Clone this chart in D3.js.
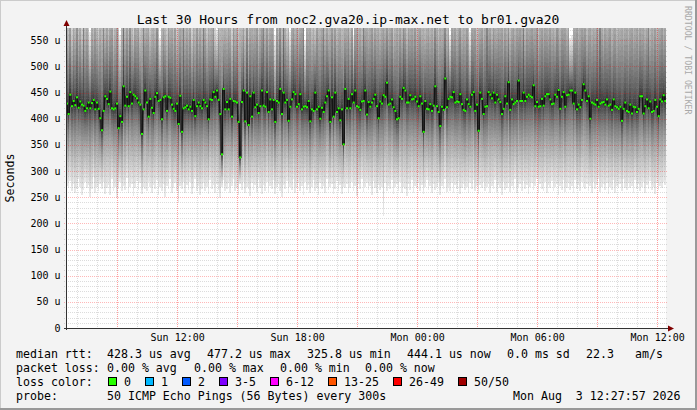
<!DOCTYPE html>
<html>
<head>
<meta charset="utf-8">
<script src="https://cdn.jsdelivr.net/npm/d3@7"></script>
<style>
  body { margin: 0; background: #f3f3f3; }
  text { font-family: "DejaVu Sans Mono", monospace; white-space: pre; }
</style>
</head>
<body>
<div id="chart"></div>
<script>
// median rtt per 300s step, in microseconds (361 steps = 30 hours)
var medianRtt = [
  429,409,446,424,434,426,441,421,433,427,425,415,420,431,420,430,436,418,431,419,401,378,415,443,
  438,428,452,420,418,420,429,382,405,394,462,425,442,424,451,429,446,443,439,431,427,371,418,454,
  431,404,438,421,411,442,449,434,436,399,441,443,415,442,440,427,419,415,429,390,444,375,420,422,
  425,418,423,415,436,405,424,431,424,420,436,431,424,399,437,436,451,442,454,436,409,332,457,418,
  432,418,438,404,434,433,431,394,326,432,454,395,450,388,443,404,450,422,427,411,424,454,425,423,
  451,413,437,418,436,394,434,431,457,409,450,431,436,396,423,437,451,447,423,428,447,418,423,424,
  422,434,395,418,415,450,418,423,400,421,413,431,443,454,394,441,404,450,413,420,397,418,351,457,
  420,438,420,447,431,454,424,422,417,433,434,454,408,432,423,431,438,446,424,401,433,429,445,442,
  469,427,429,437,422,415,399,401,442,438,459,454,431,431,445,437,438,442,433,424,443,429,375,434,
  419,418,428,415,425,462,424,413,386,423,417,477,422,438,442,441,451,431,433,432,447,428,417,415,
  437,428,423,446,451,415,427,377,450,438,409,423,424,451,446,439,450,431,446,437,432,409,419,443,
  429,470,417,437,428,431,434,473,434,434,450,434,442,446,443,441,464,424,432,423,424,438,425,443,
  447,447,437,428,429,446,442,455,419,442,451,423,445,446,454,454,429,450,418,427,422,436,466,454,
  434,443,400,431,429,427,436,423,429,431,432,427,437,425,427,417,437,424,422,419,423,396,419,431,
  415,413,427,410,423,422,413,419,443,443,410,424,437,420,433,413,415,436,423,405,437,433,445,434,
  443
];

// lowest ping of the 50 per step, in microseconds
var minRtt = [
  272,268,281,262,275,258,266,284,270,255,263,279,268,274,251,266,288,259,270,262,276,265,280,257,
  268,273,255,284,262,270,248,266,279,261,272,264,286,258,269,275,253,267,281,263,277,256,270,265,
  262,280,270,258,274,266,283,254,269,261,276,250,272,265,284,259,268,277,262,240,271,266,280,258,
  274,263,279,256,268,285,261,272,254,266,278,262,270,257,283,266,273,259,276,264,249,270,282,261,
  266,277,259,271,284,262,268,255,275,263,280,258,270,266,252,278,264,273,260,282,267,256,274,262,
  279,260,271,265,283,257,269,276,262,250,274,266,281,259,270,263,285,258,268,277,261,272,255,280,
  263,274,258,270,282,261,267,254,278,265,272,259,284,263,269,276,257,266,281,262,273,256,270,268,
  276,258,267,280,262,271,253,275,266,284,260,269,277,263,272,255,281,267,259,274,263,270,215,278,
  261,272,266,283,257,269,275,262,280,258,270,266,253,276,264,282,259,271,267,278,262,274,256,269,
  282,264,271,258,276,263,269,280,255,272,266,284,260,270,262,277,258,273,266,281,257,268,275,263,
  270,259,278,265,283,261,272,256,274,267,280,262,269,276,258,271,265,282,260,273,267,254,279,263,
  268,277,260,272,264,285,258,270,276,262,281,266,273,257,269,278,263,271,284,259,275,266,262,280,
  258,273,267,281,262,270,276,255,272,264,283,260,268,277,263,271,258,282,266,274,261,279,269,265,
  276,262,271,258,280,266,273,284,260,269,275,263,278,257,270,264,282,259,272,267,276,261,285,268,
  263,278,268,272,259,283,266,275,262,270,279,258,273,266,281,264,270,256,277,263,272,268,280,274,
  270
];

// highest ping of the 50 per step, in microseconds
var maxRtt = [
  680,640,720,610,700,655,760,630,690,615,920,660,705,625,565,690,640,735,650,610,700,675,880,640,
  700,625,680,740,615,665,720,640,560,690,950,655,710,630,760,645,600,695,670,725,620,680,900,650,
  690,735,615,670,705,640,760,625,555,680,710,650,620,730,665,700,640,745,610,675,690,720,930,660,
  700,645,725,610,680,660,740,630,705,650,905,690,620,715,655,680,740,600,570,695,660,730,640,685,
  650,720,670,610,745,660,690,630,715,655,700,640,760,620,680,705,650,690,735,615,670,700,890,655,
  710,640,685,725,660,560,700,630,745,655,940,680,615,700,565,690,720,650,705,640,675,730,880,550,
  700,660,725,640,690,615,740,655,680,710,910,645,700,625,690,735,660,705,640,680,720,650,700,665,
  690,730,640,705,560,680,720,655,700,640,925,675,715,650,690,740,630,700,665,720,645,690,710,660,
  705,650,690,740,625,680,715,660,700,645,760,690,630,720,670,700,655,735,640,690,710,660,725,645,
  690,720,655,700,640,745,680,630,715,665,700,740,650,690,560,705,660,720,640,690,735,655,700,675,
  720,650,565,700,680,740,630,705,670,715,650,690,880,660,700,640,725,680,655,710,690,740,645,700,
  665,720,640,690,735,660,700,650,725,680,895,640,705,670,690,720,655,700,740,630,690,715,660,700,
  685,650,720,670,700,640,745,680,660,710,690,725,645,700,555,560,700,675,730,650,690,720,660,705,
  640,690,740,660,700,675,720,650,905,690,640,715,670,700,735,655,690,720,645,700,680,730,660,690,
  715,650,700,740,660,690,720,645,700,675,730,660,690,880,640,705,670,720,655,700,690,735,650,700,
  680
];

var titleText = "Last 30 Hours from noc2.gva20.ip-max.net to br01.gva20";
var yTicks = [0, 50, 100, 150, 200, 250, 300, 350, 400, 450, 500, 550];
var rttStats = ["428.3 us avg", "477.2 us max", "325.8 us min", "444.1 us now", "0.0 ms sd", "22.3", "am/s"];
var lossStats = ["0.00 % avg", "0.00 % max", "0.00 % min", "0.00 % now"];
var lossLabels = ["0", "1", "2", "3-5", "6-12", "13-25", "26-49", "50/50"];
var lossColors = ["#26ff00", "#00b8ff", "#0059ff", "#7e00ff", "#ff00ff", "#ff5500", "#ff0000", "#a10000"];
var probeText = "50 ICMP Echo Pings (56 Bytes) every 300s";
var pings = 50, stepSec = 300;
var endTime = new Date(2026, 7, 3, 12, 27, 57);
var startTime = d3.timeHour.offset(endTime, -30);

var W = 697, H = 410;
var margin = {top: 28, left: 66},
    width = 600,
    height = 300;

var svg = d3.select("#chart")
  .append("svg")
    .attr("width", W)
    .attr("height", H);

// background and frame
svg.append("rect").attr("width", W).attr("height", H).attr("fill", "#f3f3f3");
svg.append("path").attr("d", "M0,409V0H697").attr("fill", "none").attr("stroke", "#cbcbcb").attr("stroke-width", 2);
svg.append("path").attr("d", "M0,409H696V0").attr("fill", "none").attr("stroke", "#999999").attr("stroke-width", 2);

var times = medianRtt.map(function(d, i) { return new Date(+startTime + i * stepSec * 1000); });

var x = d3.scaleTime()
  .domain([startTime, endTime])
  .range([margin.left, margin.left + width]);
var y = d3.scaleLinear()
  .domain([0, 573.5])
  .range([margin.top + height, margin.top]);

// canvas
svg.append("rect")
  .attr("x", margin.left).attr("y", margin.top)
  .attr("width", width).attr("height", height)
  .attr("fill", "#ffffff");

svg.append("clipPath").attr("id", "plotclip")
  .append("rect")
    .attr("x", margin.left).attr("y", margin.top)
    .attr("width", width).attr("height", height);

// smoke: 50 pings per step spread between min, median and max
var pingSets = medianRtt.map(function(m, i) {
  var lo = minRtt[i], hi = maxRtt[i], out = [];
  for (var j = 0; j < pings; j++) {
    var p = j / (pings - 1);
    if (p < 0.5) out.push(m - (m - lo) * Math.pow(1 - 2 * p, 1.5));
    else out.push(m + (hi - m) * Math.pow(2 * p - 1, 1.45));
  }
  return out;
});

var half = pings / 2;
var smoke = svg.append("g").attr("clip-path", "url(#plotclip)");
for (var b = 1; b <= half; b++) {
  var c = Math.floor(190 / half * (half - b)) + 50;
  var area = d3.area()
    .curve(d3.curveStepAfter)
    .x(function(d, i) { return x(times[i]); })
    .y0((function(b) { return function(d) { return y(d[b - 1]); }; })(b))
    .y1((function(b) { return function(d) { return y(d[pings - b]); }; })(b));
  smoke.append("path")
    .datum(pingSets)
    .attr("d", area)
    .attr("fill", d3.rgb(c, c, c))
    .attr("shape-rendering", "crispEdges");
}

// grid
var minorCol = "rgba(128,128,128,0.28)", majorCol = "rgba(255,0,0,0.28)";
var grid = svg.append("g").attr("shape-rendering", "crispEdges");
d3.range(10, 574, 10).forEach(function(v) {
  var major = v % 50 === 0;
  grid.append("line")
    .attr("x1", margin.left - 2).attr("x2", margin.left + width + 2)
    .attr("y1", Math.round(y(v)) + 0.5).attr("y2", Math.round(y(v)) + 0.5)
    .attr("stroke", major ? majorCol : minorCol)
    .attr("stroke-dasharray", "1,1");
});
x.ticks(d3.timeHour.every(1)).forEach(function(t) {
  var major = t.getHours() % 3 === 0;
  grid.append("line")
    .attr("x1", Math.round(x(t)) + 0.5).attr("x2", Math.round(x(t)) + 0.5)
    .attr("y1", margin.top).attr("y2", margin.top + height + 2)
    .attr("stroke", major ? "rgba(255,0,0,0.38)" : minorCol)
    .attr("stroke-dasharray", "1,1");
});

// median: dark step line with green marks (0 loss)
var med = svg.append("g").attr("clip-path", "url(#plotclip)");
med.append("path")
  .datum(medianRtt)
  .attr("d", d3.line()
    .curve(d3.curveStepAfter)
    .x(function(d, i) { return x(times[i]); })
    .y(function(d) { return y(d); }))
  .attr("fill", "none")
  .attr("stroke", "#141414")
  .attr("stroke-width", 1.3);
var stepW = x(times[1]) - x(times[0]);
med.selectAll("rect.m")
  .data(medianRtt)
  .enter().append("rect")
    .attr("class", "m")
    .attr("x", function(d, i) { return x(times[i]); })
    .attr("y", function(d) { return y(d) - 1; })
    .attr("width", Math.max(stepW, 2))
    .attr("height", 2)
    .attr("fill", lossColors[0]);

// axes
var axisCol = "#333333", arrowCol = "#800000";
svg.append("line")
  .attr("x1", margin.left + 0.5).attr("x2", margin.left + 0.5)
  .attr("y1", margin.top + height + 2).attr("y2", 23)
  .attr("stroke", axisCol);
svg.append("path").attr("d", "M63.5,26L69.5,26L66.5,20Z").attr("fill", arrowCol);
svg.append("line")
  .attr("x1", margin.left - 2).attr("x2", 670)
  .attr("y1", margin.top + height + 0.5).attr("y2", margin.top + height + 0.5)
  .attr("stroke", axisCol);
svg.append("path").attr("d", "M668,325.5L668,331.5L674,328.5Z").attr("fill", arrowCol);

// y labels
svg.append("g").selectAll("text")
  .data(yTicks)
  .enter().append("text")
    .attr("x", 60.5)
    .attr("y", function(d) { return y(d); })
    .attr("dy", "0.35em")
    .attr("text-anchor", "end")
    .attr("font-size", "10px")
    .text(function(d) { return d === 0 ? "0" : d + " u"; });

// x labels
var fmt = d3.timeFormat("%a %H:%M");
svg.append("g").selectAll("text")
  .data(x.ticks(d3.timeHour.every(6)))
  .enter().append("text")
    .attr("x", function(d) { return x(d) + 1; })
    .attr("y", 341)
    .attr("text-anchor", "middle")
    .attr("font-size", "10px")
    .text(fmt);

// titles
svg.append("text")
  .attr("x", 348).attr("y", 24)
  .attr("text-anchor", "middle")
  .attr("font-size", "13px")
  .text(titleText);
svg.append("text")
  .attr("transform", "translate(14,178) rotate(-90)")
  .attr("text-anchor", "middle")
  .attr("font-size", "11.6px")
  .text("Seconds");
svg.append("text")
  .attr("transform", "translate(685,6) rotate(90)")
  .attr("font-size", "8.2px")
  .attr("fill", "#a8a8a8")
  .text("RRDTOOL / TOBI OETIKER");

// legend
var fs = "11.6px";
var leg = svg.append("g").attr("font-size", fs);
leg.append("text").attr("x", 16).attr("y", 357.5).text("median rtt:");
var rttX = [107, 207, 307, 407, 507, 586, 635];
rttStats.forEach(function(s, i) {
  leg.append("text").attr("x", rttX[i]).attr("y", 357.5).text(s);
});
leg.append("text").attr("x", 16).attr("y", 371.5).text("packet loss:");
var lossX = [107, 194, 280, 365];
lossStats.forEach(function(s, i) {
  leg.append("text").attr("x", lossX[i]).attr("y", 371.5).text(s);
});
leg.append("text").attr("x", 16).attr("y", 385.5).text("loss color:");
var lx = 108;
lossLabels.forEach(function(s, i) {
  leg.append("rect")
    .attr("x", lx + 0.5).attr("y", 377.5)
    .attr("width", 8).attr("height", 8)
    .attr("fill", lossColors[i])
    .attr("stroke", "#000");
  leg.append("text").attr("x", lx + 16).attr("y", 385.5).text(s);
  lx += 16 + s.length * 7 + 14;
});
leg.append("text").attr("x", 16).attr("y", 400).text("probe:");
leg.append("text").attr("x", 107).attr("y", 400).text(probeText);
leg.append("text").attr("x", 513).attr("y", 400).text(d3.timeFormat("%a %b %e %H:%M:%S %Y")(endTime));
</script>
</body>
</html>
